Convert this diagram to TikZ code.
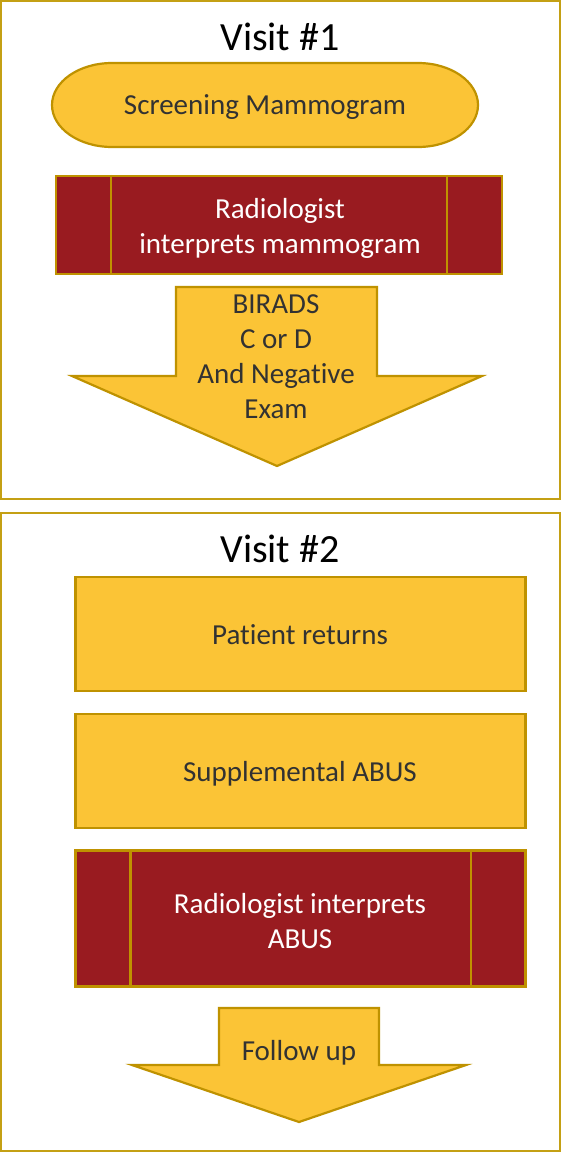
\documentclass[tikz,border=0pt]{standalone}
\usepackage{fontspec}
\setmainfont{Carlito}[Ligatures=NoCommon]
\usetikzlibrary{calc}

\definecolor{gold}{RGB}{251,196,54}
\definecolor{goldline}{RGB}{191,146,0}
\definecolor{frameline}{RGB}{196,160,20}
\definecolor{wine}{RGB}{153,27,32}
\definecolor{ink}{RGB}{50,50,50}

\tikzset{
  visitframe/.style={draw=frameline, line width=2pt, fill=white},
  heading/.style={font=\fontsize{40}{48}\selectfont, text=black, anchor=base, inner sep=0pt},
  bodytext/.style={font=\fontsize{29}{35}\selectfont, inner sep=0pt, align=center},
  goldbox/.style={draw=goldline, line width=2.2pt, fill=gold},
  redbox/.style={draw=goldline, line width=2.2pt, fill=wine},
  sideline/.style={draw=goldline, line width=2.2pt},
  arrowshape/.style={draw=goldline, line width=2.2pt, fill=gold, line join=miter}
}

\begin{document}
\begin{tikzpicture}[x=1pt, y=-1pt]
  \useasboundingbox (0,0) rectangle (562,1153);
  \fill[white] (0,0) rectangle (562,1153);

  % ---------- first visit ----------
  \draw[visitframe] (1,1) rectangle (560,499);
  \node[heading] (v1) at (280,51) {Visit \#1};

  % screening step: a stadium with elliptical ends
  \draw[goldbox] (112,63) -- (418,63)
    arc[start angle=90, end angle=-90, x radius=60pt, y radius=42pt]
    -- (112,147)
    arc[start angle=270, end angle=90, x radius=60pt, y radius=42pt] -- cycle;
  \node[bodytext, text=ink, anchor=base] (screen) at (265,115) {Screening Mammogram};

  % radiologist reads the mammogram (predefined-process box)
  \node[redbox, minimum width=446pt, minimum height=98pt, inner sep=0pt] (read1) at (279,225) {};
  \draw[sideline] ([xshift=56pt]read1.north west) -- ([xshift=56pt]read1.south west);
  \draw[sideline] ([xshift=-56pt]read1.north east) -- ([xshift=-56pt]read1.south east);
  \node[bodytext, text=white] (read1txt) at (280,228) {Radiologist\\interprets mammogram};

  % result arrow
  \coordinate (a1tip) at (277,466);
  \draw[arrowshape] (176,287) -- (377,287) -- (377,376) -- (482,376) -- (a1tip)
    -- (72,376) -- (176,376) -- cycle;
  \node[bodytext, text=ink] (result) at (276,357) {BIRADS\\C or D\\And Negative\\Exam};

  % ---------- second visit ----------
  \draw[visitframe] (1,513) rectangle (560,1151);
  \node[heading] (v2) at (280,562) {Visit \#2};

  \node[goldbox, minimum width=450pt, minimum height=114pt, inner sep=0pt] (returns) at (300.5,634) {};
  \node[bodytext, text=ink, anchor=base] (returnstxt) at (300,644) {Patient returns};

  \node[goldbox, minimum width=450pt, minimum height=114pt, inner sep=0pt] (abus) at (300.5,771) {};
  \node[bodytext, text=ink, anchor=base] (abustxt) at (300,781) {Supplemental ABUS};

  \node[redbox, minimum width=450pt, minimum height=136pt, inner sep=0pt] (read2) at (300.5,918.5) {};
  \draw[sideline] ([xshift=56pt]read2.north west) -- ([xshift=56pt]read2.south west);
  \draw[sideline] ([xshift=-56pt]read2.north east) -- ([xshift=-56pt]read2.south east);
  \node[bodytext, text=white] (read2txt) at (300,921) {Radiologist interprets\\ABUS};

  % follow-up arrow
  \coordinate (a2tip) at (299,1122);
  \draw[arrowshape] (219,1008) -- (379,1008) -- (379,1065) -- (466,1065) -- (a2tip)
    -- (132,1065) -- (219,1065) -- cycle;
  \node[bodytext, text=ink, anchor=base] (follow) at (299,1060) {Follow up};
\end{tikzpicture}
\end{document}
